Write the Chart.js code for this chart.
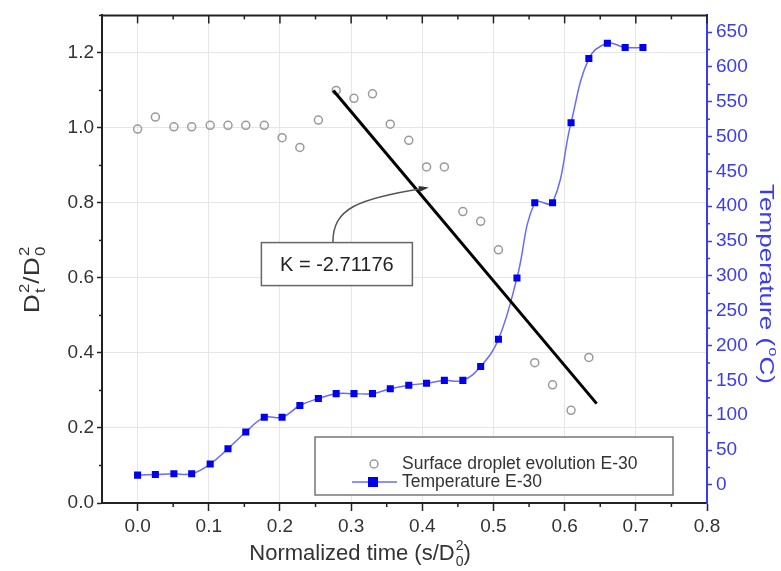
<!DOCTYPE html>
<html>
<head>
<meta charset="utf-8">
<script src="https://cdn.jsdelivr.net/npm/chart.js@4.4.1/dist/chart.umd.min.js"></script>
<style>
  html, body { margin: 0; padding: 0; background: #fff; }
</style>
</head>
<body>
<canvas id="chart" width="781" height="571"></canvas>
<script>
// normalized time (s/D0^2) of each sample
const timeTemp = [0, 0.025, 0.051, 0.076, 0.102, 0.127, 0.152, 0.178, 0.203, 0.228,
  0.254, 0.279, 0.304, 0.330, 0.355, 0.381, 0.406, 0.431, 0.457, 0.482,
  0.507, 0.533, 0.558, 0.583, 0.609, 0.634, 0.660, 0.685, 0.710];
const tempE30 = [14, 15, 16, 16, 30, 52, 76, 97, 97, 114,
  124, 131, 131, 131, 138, 143, 146, 150, 150, 170,
  209, 297, 405, 405, 520, 612, 634, 628, 628];

// droplet surface D_t^2/D_0^2 (no reading at 0.533)
const timeDrop = [0, 0.025, 0.051, 0.076, 0.102, 0.127, 0.152, 0.178, 0.203, 0.228,
  0.254, 0.279, 0.304, 0.330, 0.355, 0.381, 0.406, 0.431, 0.457, 0.482,
  0.507, 0.558, 0.583, 0.609, 0.634];
const dropE30 = [0.997, 1.029, 1.003, 1.003, 1.007, 1.007, 1.007, 1.007, 0.974, 0.948,
  1.021, 1.100, 1.079, 1.091, 1.010, 0.967, 0.896, 0.896, 0.777, 0.751,
  0.675, 0.374, 0.315, 0.247, 0.388];

// linear fit through the evaporation stage
const fitX = [0.275, 0.645];
const fitY = [1.100, 0.265];
const fitLabel = "K = -2.71176";

const timeTicks = [0, 0.1, 0.2, 0.3, 0.4, 0.5, 0.6, 0.7, 0.8];
const ratioTicks = [0, 0.2, 0.4, 0.6, 0.8, 1.0, 1.2];
const tempTicks = [0, 50, 100, 150, 200, 250, 300, 350, 400, 450, 500, 550, 600, 650];

const legendLabels = ["Surface droplet evolution E-30", "Temperature E-30"];

const FONT = '"Liberation Sans", Arial, sans-serif';
const BLUE = "#0000ee";
const BLUE_AXIS = "#3b3bf0";
const GREY_PT = "#9a9a9a";

// text with stacked sub/superscripts, e.g. D_0^2
function richWidth(ctx, segs, size) {
  let w = 0;
  segs.forEach(s => {
    ctx.font = size + "px " + FONT;
    w += ctx.measureText(s.t).width;
    ctx.font = Math.round(size * 0.62) + "px " + FONT;
    const a = s.sub ? ctx.measureText(s.sub).width : 0;
    const b = s.sup ? ctx.measureText(s.sup).width : 0;
    w += Math.max(a, b) + (a || b ? 1 : 0);
  });
  return w;
}

function drawRich(ctx, segs, size, color) {
  const w = richWidth(ctx, segs, size);
  let x = -w / 2;
  const base = size * 0.36;
  ctx.fillStyle = color;
  ctx.textBaseline = "alphabetic";
  ctx.textAlign = "left";
  segs.forEach(s => {
    ctx.font = size + "px " + FONT;
    ctx.fillText(s.t, x, base);
    x += ctx.measureText(s.t).width;
    ctx.font = Math.round(size * 0.62) + "px " + FONT;
    let adv = 0;
    if (s.sub) {
      ctx.fillText(s.sub, x + 1, base + size * 0.28);
      adv = ctx.measureText(s.sub).width;
    }
    if (s.sup) {
      ctx.fillText(s.sup, x + 1, base - size * 0.45);
      adv = Math.max(adv, ctx.measureText(s.sup).width);
    }
    x += adv + (adv ? 1 : 0);
  });
}

function line(ctx, x1, y1, x2, y2) {
  ctx.beginPath();
  ctx.moveTo(x1, y1);
  ctx.lineTo(x2, y2);
  ctx.stroke();
}

const decorations = {
  id: "decorations",
  afterDatasetsDraw(chart) {
    const ctx = chart.ctx;
    const ca = chart.chartArea;
    const sx = chart.scales.x, sy = chart.scales.y, sy2 = chart.scales.y2;
    ctx.save();

    // top frame with inward ticks
    ctx.strokeStyle = "#222";
    ctx.lineWidth = 2;
    line(ctx, ca.left - 1, ca.top, ca.right + 1, ca.top);
    ctx.lineWidth = 1.5;
    for (let v = 0; v <= 0.8001; v += 0.05) {
      const px = sx.getPixelForValue(v);
      const major = Math.abs(v * 10 - Math.round(v * 10)) < 1e-6;
      line(ctx, px, ca.top, px, ca.top + (major ? 8 : 4));
      if (!major) line(ctx, px, ca.bottom, px, ca.bottom + 4);
    }
    // left and right minor ticks
    for (let v = 0.1; v < 1.3; v += 0.2) {
      const py = sy.getPixelForValue(v);
      line(ctx, ca.left, py, ca.left - 3, py);
    }
    ctx.strokeStyle = BLUE_AXIS;
    for (let v = 25; v < 674; v += 50) {
      const py = sy2.getPixelForValue(v);
      line(ctx, ca.right, py, ca.right + 3, py);
    }

    // annotation: box, label and curved pointer to the fit line
    const bx = sx.getPixelForValue(0.28);
    const by = sy.getPixelForValue(0.637);
    const bw = 151, bh = 43;
    const tipX = sx.getPixelForValue(0.405);
    const tipY = sy.getPixelForValue(0.84);
    const p0x = bx - 4, p0y = by - bh / 2;
    const c1x = p0x, c1y = p0y - 34;
    const c2x = p0x + 24, c2y = p0y - 44;
    ctx.strokeStyle = "#555";
    ctx.lineWidth = 1.5;
    ctx.beginPath();
    ctx.moveTo(p0x, p0y);
    ctx.bezierCurveTo(c1x, c1y, c2x, c2y, tipX, tipY);
    ctx.stroke();
    const ang = Math.atan2(tipY - c2y, tipX - c2x);
    ctx.fillStyle = "#333";
    ctx.beginPath();
    ctx.moveTo(tipX + 3 * Math.cos(ang), tipY + 3 * Math.sin(ang));
    ctx.lineTo(tipX - 7 * Math.cos(ang) - 3 * Math.sin(ang), tipY - 7 * Math.sin(ang) + 3 * Math.cos(ang));
    ctx.lineTo(tipX - 7 * Math.cos(ang) + 3 * Math.sin(ang), tipY - 7 * Math.sin(ang) - 3 * Math.cos(ang));
    ctx.closePath();
    ctx.fill();

    ctx.fillStyle = "#fff";
    ctx.fillRect(bx - bw / 2, by - bh / 2, bw, bh);
    ctx.strokeStyle = "#666";
    ctx.lineWidth = 1.5;
    ctx.strokeRect(bx - bw / 2, by - bh / 2, bw, bh);
    ctx.fillStyle = "#222";
    ctx.font = "20px " + FONT;
    ctx.textAlign = "center";
    ctx.textBaseline = "middle";
    ctx.fillText(fitLabel, bx, by + 1);

    // legend
    const lx = ca.right - 392, ly = ca.bottom - 66, lw = 358, lh = 58;
    ctx.fillStyle = "#fff";
    ctx.fillRect(lx, ly, lw, lh);
    ctx.strokeStyle = "#777";
    ctx.lineWidth = 1.5;
    ctx.strokeRect(lx, ly, lw, lh);
    ctx.strokeStyle = GREY_PT;
    ctx.lineWidth = 1.5;
    ctx.beginPath();
    ctx.arc(lx + 59, ly + 27, 4, 0, Math.PI * 2);
    ctx.stroke();
    ctx.strokeStyle = "#6a6aff";
    ctx.lineWidth = 1.5;
    line(ctx, lx + 37, ly + 45, lx + 82, ly + 45);
    ctx.fillStyle = BLUE;
    ctx.fillRect(lx + 53, ly + 40, 10, 10);
    ctx.fillStyle = "#333";
    ctx.font = "17.5px " + FONT;
    ctx.textAlign = "left";
    ctx.textBaseline = "middle";
    ctx.fillText(legendLabels[0], lx + 87, ly + 27);
    ctx.fillText(legendLabels[1], lx + 87, ly + 45);

    // axis titles (stretched along the text a little, like the tall axis lettering)
    ctx.save();
    ctx.translate(360, 552);
    drawRich(ctx, [{ t: "Normalized time (s/D", sub: "0", sup: "2" }, { t: ")" }], 22, "#333");
    ctx.restore();
    ctx.save();
    ctx.translate(31, 280);
    ctx.rotate(-Math.PI / 2);
    ctx.scale(1.2, 1);
    drawRich(ctx, [{ t: "D", sub: "t", sup: "2" }, { t: "/D", sub: "0", sup: "2" }], 22, "#333");
    ctx.restore();
    ctx.save();
    ctx.translate(767, 284);
    ctx.rotate(Math.PI / 2);
    ctx.scale(1.27, 1);
    drawRich(ctx, [{ t: "Temperature (", sup: "o" }, { t: "C)" }], 20.5, BLUE_AXIS);
    ctx.restore();

    ctx.restore();
  }
};

new Chart(document.getElementById("chart"), {
  type: "scatter",
  data: {
    datasets: [
      {
        label: legendLabels[0],
        data: timeDrop.map((t, i) => ({ x: t, y: dropE30[i] })),
        yAxisID: "y",
        showLine: false,
        pointStyle: "circle",
        pointRadius: 4,
        pointBorderWidth: 1.5,
        pointBorderColor: GREY_PT,
        pointBackgroundColor: "rgba(0,0,0,0)",
        order: 1
      },
      {
        label: legendLabels[1],
        data: timeTemp.map((t, i) => ({ x: t, y: tempE30[i] })),
        yAxisID: "y2",
        showLine: true,
        tension: 0.4,
        borderColor: "#6a6aff",
        borderWidth: 1.5,
        pointStyle: "rect",
        pointRadius: 5,
        pointBorderWidth: 0,
        pointBackgroundColor: BLUE,
        pointBorderColor: BLUE,
        order: 2
      },
      {
        label: "fit",
        data: fitX.map((t, i) => ({ x: t, y: fitY[i] })),
        yAxisID: "y",
        showLine: true,
        borderColor: "#000",
        borderWidth: 3,
        pointRadius: 0,
        order: 0
      }
    ]
  },
  options: {
    responsive: false,
    animation: false,
    layout: { padding: { top: 15, left: 0, right: 0, bottom: 0 } },
    plugins: { legend: { display: false }, tooltip: { enabled: false } },
    scales: {
      x: {
        type: "linear",
        position: "bottom",
        min: -0.05,
        max: 0.8,
        afterBuildTicks: s => { s.ticks = timeTicks.map(v => ({ value: v })); },
        afterFit: s => { s.height = 68; },
        ticks: {
          callback: v => v.toFixed(1),
          font: { family: FONT, size: 19 },
          color: "#333",
          padding: 4,
          maxRotation: 0
        },
        grid: { color: "#e6e6e6", lineWidth: 1, tickLength: 8, tickColor: "#222", tickWidth: 1.5 },
        border: { color: "#222", width: 2 }
      },
      y: {
        type: "linear",
        position: "left",
        min: 0,
        max: 1.3,
        afterBuildTicks: s => { s.ticks = ratioTicks.map(v => ({ value: v })); },
        afterFit: s => { s.width = 102; },
        ticks: {
          callback: v => v.toFixed(1),
          font: { family: FONT, size: 19 },
          color: "#333",
          padding: 3
        },
        grid: { color: "#e6e6e6", lineWidth: 1, tickLength: 5, tickColor: "#222", tickWidth: 1.5 },
        border: { color: "#222", width: 2 }
      },
      y2: {
        type: "linear",
        position: "right",
        min: -26,
        max: 674,
        afterBuildTicks: s => { s.ticks = tempTicks.map(v => ({ value: v })); },
        afterFit: s => { s.width = 74; },
        ticks: {
          callback: v => v,
          font: { family: FONT, size: 19 },
          color: BLUE_AXIS,
          padding: 4
        },
        grid: { drawOnChartArea: false, tickLength: 5, tickColor: BLUE_AXIS, tickWidth: 1.5 },
        border: { color: BLUE_AXIS, width: 2 }
      }
    }
  },
  plugins: [decorations]
});
</script>
</body>
</html>
